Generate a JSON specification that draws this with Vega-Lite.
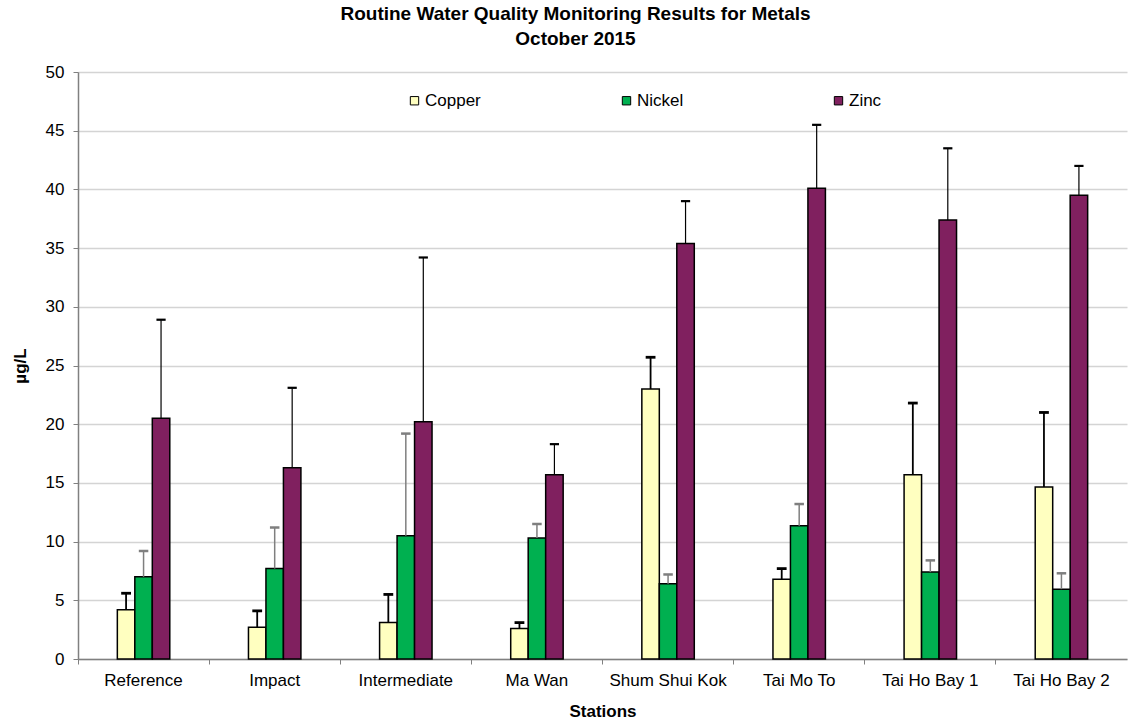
{
  "$schema": "https://vega.github.io/schema/vega-lite/v6.json",
  "autosize": "none",
  "width": 1049,
  "height": 587,
  "padding": {"left": 78, "top": 72, "right": 4, "bottom": 65},
  "background": "white",
  "config": {
    "font": "Liberation Sans",
    "view": {"stroke": null},
    "axis": {"labelFont": "Liberation Sans", "titleFont": "Liberation Sans", "labelColor": "#000000", "titleColor": "#000000"}
  },
  "title": {
    "text": ["Routine Water Quality Monitoring Results for Metals", "October 2015"],
    "font": "Liberation Sans",
    "fontSize": 19,
    "fontWeight": "bold",
    "color": "#000000",
    "anchor": "middle",
    "dx": -27,
    "offset": 14,
    "lineHeight": 25
  },
  "data": {
    "values": [
      {"station": "Reference", "metal": "Copper", "value": 4.2, "upper": 5.6},
      {"station": "Reference", "metal": "Nickel", "value": 7.0, "upper": 9.2},
      {"station": "Reference", "metal": "Zinc", "value": 20.5, "upper": 28.9},
      {"station": "Impact", "metal": "Copper", "value": 2.7, "upper": 4.1},
      {"station": "Impact", "metal": "Nickel", "value": 7.7, "upper": 11.2},
      {"station": "Impact", "metal": "Zinc", "value": 16.3, "upper": 23.1},
      {"station": "Intermediate", "metal": "Copper", "value": 3.1, "upper": 5.5},
      {"station": "Intermediate", "metal": "Nickel", "value": 10.5, "upper": 19.2},
      {"station": "Intermediate", "metal": "Zinc", "value": 20.2, "upper": 34.2},
      {"station": "Ma Wan", "metal": "Copper", "value": 2.6, "upper": 3.1},
      {"station": "Ma Wan", "metal": "Nickel", "value": 10.3, "upper": 11.5},
      {"station": "Ma Wan", "metal": "Zinc", "value": 15.7, "upper": 18.3},
      {"station": "Shum Shui Kok", "metal": "Copper", "value": 23.0, "upper": 25.7},
      {"station": "Shum Shui Kok", "metal": "Nickel", "value": 6.4, "upper": 7.2},
      {"station": "Shum Shui Kok", "metal": "Zinc", "value": 35.4, "upper": 39.0},
      {"station": "Tai Mo To", "metal": "Copper", "value": 6.8, "upper": 7.7},
      {"station": "Tai Mo To", "metal": "Nickel", "value": 11.35, "upper": 13.2},
      {"station": "Tai Mo To", "metal": "Zinc", "value": 40.1, "upper": 45.5},
      {"station": "Tai Ho Bay 1", "metal": "Copper", "value": 15.7, "upper": 21.8},
      {"station": "Tai Ho Bay 1", "metal": "Nickel", "value": 7.4, "upper": 8.4},
      {"station": "Tai Ho Bay 1", "metal": "Zinc", "value": 37.4, "upper": 43.5},
      {"station": "Tai Ho Bay 2", "metal": "Copper", "value": 14.65, "upper": 21.0},
      {"station": "Tai Ho Bay 2", "metal": "Nickel", "value": 5.95, "upper": 7.3},
      {"station": "Tai Ho Bay 2", "metal": "Zinc", "value": 39.5, "upper": 42.0}
    ]
  },
  "encoding": {
    "x": {
      "field": "station",
      "type": "nominal",
      "sort": null,
      "scale": {"paddingInner": 0, "paddingOuter": 0},
      "axis": {
        "title": "Stations",
        "titleFontSize": 17,
        "titleFontWeight": "bold",
        "titlePadding": 15,
        "labelFontSize": 17,
        "labelAngle": 0,
        "labelPadding": 8,
        "domainColor": "#808080",
        "domainWidth": 1.5,
        "tickColor": "#808080",
        "tickSize": 5,
        "bandPosition": 0,
        "grid": false
      }
    },
    "xOffset": {
      "field": "metal",
      "type": "nominal",
      "scale": {
        "domain": ["pad-l2", "pad-l1", "Copper", "Nickel", "Zinc", "pad-r1", "pad-r2"],
        "paddingInner": 0,
        "paddingOuter": 0.25
      }
    }
  },
  "layer": [
    {
      "mark": {"type": "bar", "stroke": "#000000", "strokeWidth": 1.5},
      "encoding": {
        "y": {
          "field": "value",
          "type": "quantitative",
          "scale": {"domain": [0, 50], "nice": false},
          "axis": {
            "title": "µg/L",
            "titleFontSize": 17,
            "titleFontWeight": "bold",
            "titlePadding": 16,
            "labelFontSize": 17,
            "labelPadding": 9,
            "values": [0, 5, 10, 15, 20, 25, 30, 35, 40, 45, 50],
            "domainColor": "#808080",
            "domainWidth": 1.5,
            "tickColor": "#808080",
            "tickSize": 5,
            "gridColor": "#d4d4d4",
            "gridWidth": 1.5
          }
        },
        "fill": {
          "field": "metal",
          "type": "nominal",
          "scale": {"domain": ["Copper", "Nickel", "Zinc"], "range": ["#FFFFC0", "#00B050", "#80205F"]},
          "legend": {
            "title": null,
            "orient": "none",
            "legendX": 328,
            "legendY": 20,
            "direction": "horizontal",
            "columns": 3,
            "gridAlign": "all",
            "columnPadding": 137,
            "symbolType": "square",
            "symbolSize": 70,
            "symbolStrokeColor": "#000000",
            "symbolStrokeWidth": 1,
            "symbolOpacity": 1,
            "labelFontSize": 17,
            "labelFont": "Liberation Sans",
            "labelColor": "#000000",
            "labelOffset": 2
          }
        }
      }
    },
    {
      "mark": {"type": "rule"},
      "encoding": {
        "y": {"field": "value", "type": "quantitative"},
        "y2": {"field": "upper"},
        "stroke": {
          "field": "metal",
          "type": "nominal",
          "scale": {"domain": ["Copper", "Nickel", "Zinc"], "range": ["#000000", "#7f7f7f", "#000000"]},
          "legend": null
        },
        "strokeWidth": {
          "field": "metal",
          "type": "nominal",
          "scale": {"domain": ["Copper", "Nickel", "Zinc"], "range": [1.8, 1.2, 1.8]},
          "legend": null
        }
      }
    },
    {
      "mark": {"type": "tick", "size": 8, "orient": "horizontal"},
      "encoding": {
        "y": {"field": "upper", "type": "quantitative"},
        "stroke": {"field": "metal", "type": "nominal", "legend": null},
        "strokeWidth": {"field": "metal", "type": "nominal", "legend": null},
        "opacity": {"value": 1}
      }
    }
  ],
  "resolve": {"scale": {"fill": "independent"}}
}
